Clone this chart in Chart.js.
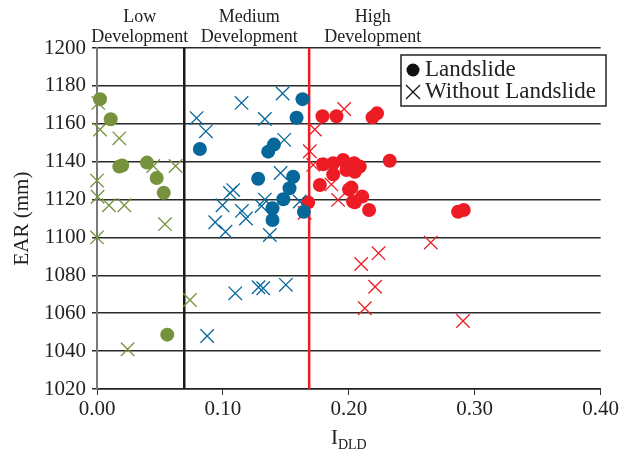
<!DOCTYPE html>
<html>
<head>
<meta charset="utf-8">
<script src="https://cdn.jsdelivr.net/npm/chart.js@4"></script>
<style>
  html, body { margin:0; padding:0; background:#fff; }
  #wrap { width:621px; height:457px; position:relative; }
</style>
</head>
<body>
<div id="wrap"><canvas id="ear" width="621" height="457"></canvas></div>
<script>
// x = I_DLD, y = EAR (mm)
const lowLand = [[0.0024,1173],[0.0109,1162.4],[0.0177,1137.4],[0.020,1138],[0.0397,1139.5],[0.0474,1131.4],[0.053,1123.6],[0.0558,1048.7]];
const lowNo = [[0.001,1171],[0.0024,1157],[0.0177,1152.3],[0.0447,1137.7],[0.0624,1137.7],[0,1130],[0.0005,1121.5],[0.0095,1117],[0.0217,1117],[0.054,1107],[0,1100],[0.0738,1067],[0.0243,1041]];
const medLand = [[0.1632,1173],[0.1585,1163.2],[0.0817,1146.7],[0.1405,1149],[0.136,1145.3],[0.128,1131],[0.1558,1132],[0.1529,1126],[0.148,1120.2],[0.1394,1115.4],[0.1394,1109.2],[0.1643,1113.5]];
const medNo = [[0.1474,1176],[0.1148,1171],[0.0791,1163],[0.1333,1162.5],[0.0865,1156],[0.1487,1151.5],[0.1458,1134],[0.1082,1125],[0.1056,1123.5],[0.1333,1120],[0.161,1119],[0.0997,1117],[0.1307,1116.6],[0.1151,1114],[0.1183,1110],[0.0939,1108],[0.1021,1103],[0.1373,1101.3],[0.1098,1070.5],[0.1283,1073.7],[0.132,1073.2],[0.15,1075],[0.0875,1048]];
const highLand = [[0.1791,1164],[0.1902,1164],[0.2188,1163.4],[0.2224,1165.5],[0.2325,1140.5],[0.1796,1138.6],[0.1876,1139.2],[0.1955,1140.9],[0.2042,1139.2],[0.2087,1137.4],[0.1981,1135.6],[0.1876,1133.3],[0.2048,1134.7],[0.177,1127.7],[0.2021,1126.3],[0.2002,1125.4],[0.2106,1121.6],[0.2048,1118.6],[0.2034,1119],[0.2161,1114.5],[0.1677,1118.5],[0.2868,1113.6],[0.2913,1114.5]];
const highNo = [[0.1963,1167.8],[0.173,1157],[0.169,1145.5],[0.1717,1138.3],[0.1862,1128],[0.1915,1119.8],[0.165,1113],[0.2651,1097.3],[0.2236,1091.7],[0.2098,1086],[0.2209,1074],[0.2127,1062.6],[0.2907,1055.9]];

const thresholds = [0.0693, 0.1685];
const zoneLabels = [['Low','Development',0.034],['Medium','Development',0.121],['High','Development',0.219]];
const yTicks = [1020,1200,20];
const xTicks = [0,0.4,0.1];

const GREEN = '#76923c', BLUE = '#06689a', RED = '#ed1c24';
const SERIF = '"Liberation Serif", "Times New Roman", serif';

const pts = a => a.map(p => ({x:p[0], y:p[1]}));
function dot(data, color){
  return { data: pts(data), clip:false, pointStyle:'circle', pointRadius:7, backgroundColor:color, borderColor:color, borderWidth:0 };
}
function cross(data, color){
  return { data: pts(data), clip:false, pointStyle:'crossRot', pointRadius:9.5, backgroundColor:color, borderColor:color, borderWidth:1.3 };
}

const overlay = {
  id:'overlay',
  beforeDatasetsDraw(chart){
    const c = chart.ctx, x = chart.scales.x, a = chart.chartArea;
    c.save();
    c.lineWidth = 2.5; c.strokeStyle = '#1a1a1a';
    let px = x.getPixelForValue(thresholds[0]);
    c.beginPath(); c.moveTo(px, a.top); c.lineTo(px, a.bottom); c.stroke();
    c.lineWidth = 2.5; c.strokeStyle = RED;
    px = x.getPixelForValue(thresholds[1]);
    c.beginPath(); c.moveTo(px, a.top); c.lineTo(px, a.bottom); c.stroke();
    c.restore();
  },
  afterDraw(chart){
    const c = chart.ctx, x = chart.scales.x, a = chart.chartArea;
    c.save();
    // zone labels
    c.fillStyle = '#222'; c.textAlign = 'center'; c.textBaseline = 'middle';
    c.font = '18px ' + SERIF;
    zoneLabels.forEach(z => {
      const px = x.getPixelForValue(z[2]);
      c.fillText(z[0], px, 17);
      c.fillText(z[1], px, 37);
    });
    // x axis title with subscript
    c.textAlign = 'left'; c.textBaseline = 'alphabetic';
    c.font = '21px ' + SERIF;
    const mid = (a.left + a.right) / 2;
    const wI = c.measureText('I').width;
    c.font = '14px ' + SERIF;
    const wS = c.measureText('DLD').width;
    const sx = mid - (wI + wS) / 2;
    c.font = '21px ' + SERIF;
    c.fillText('I', sx, 444);
    c.font = '14px ' + SERIF;
    c.fillText('DLD', sx + wI, 449);
    // legend
    const lx = 401, ly = 55, lw = 205, lh = 51;
    c.fillStyle = '#fff'; c.fillRect(lx, ly, lw, lh);
    c.lineWidth = 1.5; c.strokeStyle = '#222'; c.strokeRect(lx, ly, lw, lh);
    c.fillStyle = '#111';
    c.beginPath(); c.arc(413, 70, 6.5, 0, Math.PI * 2); c.fill();
    c.lineWidth = 1.3; c.strokeStyle = '#111';
    c.beginPath(); c.moveTo(406, 85); c.lineTo(420, 99); c.moveTo(420, 85); c.lineTo(406, 99); c.stroke();
    c.font = '23px ' + SERIF; c.textBaseline = 'middle'; c.fillStyle = '#222';
    c.fillText('Landslide', 425, 70);
    c.fillText('Without Landslide', 425, 92);
    c.restore();
  }
};

new Chart(document.getElementById('ear'), {
  type:'scatter',
  data:{ datasets:[
    cross(lowNo, GREEN), dot(lowLand, GREEN),
    cross(medNo, BLUE), dot(medLand, BLUE),
    cross(highNo, RED), dot(highLand, RED)
  ]},
  options:{
    responsive:false, animation:false, devicePixelRatio:1,
    layout:{ padding:{ left:0, right:20, top:48, bottom:0 } },
    plugins:{ legend:{ display:false }, tooltip:{ enabled:false } },
    scales:{
      x:{
        type:'linear', min:xTicks[0], max:xTicks[1],
        afterFit(s){ s.height = 68; },
        ticks:{ stepSize:xTicks[2], padding:2, autoSkip:false, maxRotation:0, color:'#222', font:{ family:SERIF, size:21 }, callback:v => Number(v).toFixed(2) },
        grid:{ drawOnChartArea:false, tickLength:6, color:'#333' },
        border:{ color:'#222', width:1.5 }
      },
      y:{
        min:yTicks[0], max:yTicks[1],
        afterFit(s){ s.width = 97; },
        ticks:{ stepSize:yTicks[2], padding:6, autoSkip:false, color:'#222', font:{ family:SERIF, size:21 }, callback:v => String(v) },
        grid:{ color:'#2a2a2a', lineWidth:1.5, tickLength:5 },
        border:{ color:'#7a7a7a', width:2 },
        title:{ display:true, text:'EAR (mm)', color:'#222', font:{ family:SERIF, size:21 }, padding:{ top:10, bottom:0 } }
      }
    }
  },
  plugins:[overlay]
});
</script>
</body>
</html>
